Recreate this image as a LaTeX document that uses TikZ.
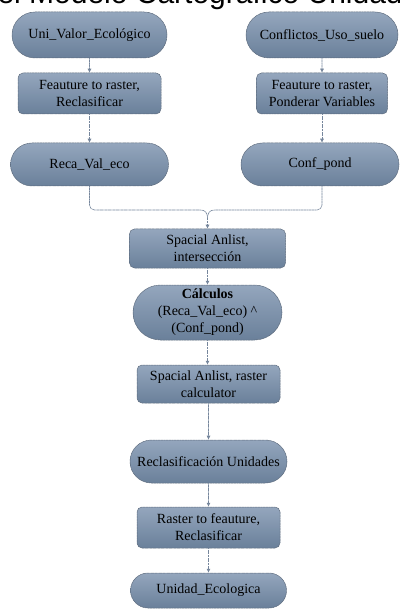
\documentclass[tikz,border=0pt]{standalone}
\usepackage{fontspec}
\setmainfont{Liberation Serif}
\newfontfamily\titlefont{Liberation Sans}
\usetikzlibrary{arrows.meta,shapes.misc}
\definecolor{boxtop}{RGB}{148,166,189}
\definecolor{boxbot}{RGB}{106,128,154}
\definecolor{boxline}{RGB}{92,106,124}
\definecolor{connline}{RGB}{118,134,156}
\tikzset{
  base/.style={draw=boxline, line width=0.5pt, dash pattern=on 1.2pt off 0.4pt,
    top color=boxtop, bottom color=boxbot, align=center, inner sep=0pt,
    font=\fontsize{14}{17}\selectfont, text=black},
  term/.style={base, rounded rectangle},
  proc/.style={base, rectangle, rounded corners=5pt},
  conn/.style={draw=connline, line width=0.6pt, dash pattern=on 1.2pt off 0.4pt,
    -{Latex[length=4pt,width=4pt,fill=connline]}},
  connplain/.style={draw=connline, line width=0.6pt, dash pattern=on 1.2pt off 0.4pt},
}
\begin{document}
\begin{tikzpicture}[x=1pt,y=-1pt]
\useasboundingbox (0,0) rectangle (399,609);
\fill[white] (0,0) rectangle (399,609);
\node[anchor=base west, font=\titlefont\fontsize{30}{32}\selectfont, inner sep=0pt] (title) at (29,4) {\llap{del }Modelo Cartográfico Unidad Ecológica};
\node[term, minimum width=155pt, minimum height=46pt] (t1) at (89.5,35) {Uni\_Valor\_Ecológico};
\node[term, minimum width=152pt, minimum height=46pt] (t2) at (322,35) {Conflictos\_Uso\_suelo};
\node[proc, minimum width=143pt, minimum height=41pt] (p1) at (89.5,93.5) {Feauture to raster,\\Reclasificar};
\node[proc, minimum width=131pt, minimum height=41pt] (p2) at (322,93.5) {Feauture to raster,\\Ponderar Variables};
\node[term, minimum width=158pt, minimum height=43pt] (t3) at (89.5,164.5) {Reca\_Val\_eco};
\node[term, minimum width=158pt, minimum height=43pt] (t4) at (320,164.5) {Conf\_pond};
\node[proc, minimum width=156pt, minimum height=39pt] (p3) at (207.5,248.5) {Spacial Anlist,\\intersección};
\node[term, minimum width=149pt, minimum height=55pt] (t5) at (207.5,312.5) {\textbf{Cálculos}\\(Reca\_Val\_eco) \^{}\\(Conf\_pond)};
\node[proc, minimum width=143pt, minimum height=38pt] (p4) at (208.5,384) {Spacial Anlist, raster\\calculator};
\node[term, minimum width=157pt, minimum height=43pt] (t6) at (208.5,461.5) {Reclasificación Unidades};
\node[proc, minimum width=143pt, minimum height=41pt] (p5) at (208.5,527.5) {Raster to feauture,\\Reclasificar};
\node[term, minimum width=156pt, minimum height=35pt] (t7) at (208.5,590.5) {Unidad\_Ecologica};
\draw[conn] (t1) -- (p1);
\draw[conn] (t2) -- (p2);
\draw[conn] (p1.south) -- (t3.north -| p1.south);
\draw[conn] (p2.south) -- (t4.north -| p2.south);
\coordinate (jl) at (200,210);
\coordinate (jr) at (215,210);
\coordinate (jb) at (207.5,219);
\draw[connplain, rounded corners=5pt] (t3.south) |- (jl);
\draw[connplain, rounded corners=5pt] (t4.south -| p2.south) |- (jr);
\draw[connplain] (jl) .. controls (205,210) and (207.5,212) .. (jb);
\draw[connplain] (jr) .. controls (210,210) and (207.5,212) .. (jb);
\draw[conn] (jb) -- (p3.north);
\draw[conn] (p3) -- (t5);
\draw[conn] (t5.south) -- (p4.north -| t5.south);
\draw[conn] (p4) -- (t6);
\draw[conn] (t6) -- (p5);
\draw[conn] (p5) -- (t7);
\end{tikzpicture}
\end{document}
